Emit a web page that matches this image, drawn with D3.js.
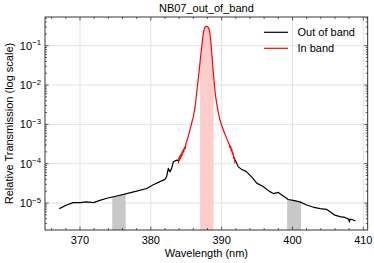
<!DOCTYPE html>
<html lang="en">
<head>
<meta charset="utf-8">
<script src="https://d3js.org/d3.v7.min.js"></script>
<style>
  html, body { margin: 0; padding: 0; background: #fff; }
  svg { display: block; }
  text { font-family: "Liberation Sans", Arial, sans-serif; fill: #000; }
</style>
</head>
<body>
<svg id="chart" width="374" height="263"></svg>
<script>
// black curve below the band
const outLeftWl = [367.08, 368.12, 369.05, 370.0, 370.9, 371.9, 372.8, 373.8, 375.2, 376.6, 378.0, 379.4,
  380.35, 381.3, 382.0, 382.24, 382.47, 382.71, 382.94, 383.18, 383.65, 383.9];
const outLeftT = [7.2e-6, 8.9e-6, 1.02e-5, 1.02e-5, 1.07e-5, 1.02e-5, 1.17e-5, 1.32e-5, 1.51e-5, 1.74e-5, 2.0e-5, 2.34e-5,
  2.9e-5, 3.5e-5, 4.0e-5, 4.7e-5, 7.6e-5, 6.2e-5, 7.6e-5, 1.12e-4, 1.23e-4, 1.2e-4];

// red in-band curve
const inWl = [383.88, 383.95, 384.02, 384.1, 384.18, 384.26, 384.34, 384.42, 384.5, 384.58, 384.66, 384.75, 384.85, 384.95,
  385.06, 385.3, 385.53, 385.75, 386.0, 386.25, 386.47, 386.65, 386.84, 387.0, 387.18, 387.3, 387.41, 387.53, 387.65,
  387.78, 387.89, 388.05, 388.2, 388.33, 388.45, 388.57, 388.68, 388.82, 388.96, 389.12, 389.3, 389.53, 389.77, 390.0,
  390.24, 390.47, 390.71, 390.95, 391.1, 391.2, 391.28, 391.36, 391.44, 391.52, 391.6, 391.7, 391.8, 391.88];
const inT = [1.02e-4, 1.38e-4, 1.17e-4, 1.58e-4, 1.35e-4, 1.74e-4, 1.51e-4, 2.0e-4, 1.74e-4, 2.29e-4, 2.04e-4, 2.63e-4, 2.4e-4, 3.16e-4,
  3.63e-4, 5.0e-4, 7.2e-4, 1.05e-3, 1.55e-3, 2.8e-3, 6.2e-3, 1.2e-2, 2.4e-2, 4.8e-2, 9.3e-2, 0.145, 0.21, 0.26, 0.295,
  0.31, 0.31, 0.30, 0.275, 0.21, 0.14, 0.079, 0.044, 0.021, 0.011, 5.6e-3, 3.4e-3, 2.0e-3, 1.29e-3, 9.5e-4,
  7.2e-4, 5.6e-4, 4.4e-4, 3.4e-4, 3.0e-4, 2.5e-4, 2.8e-4, 2.1e-4, 2.35e-4, 1.78e-4, 1.9e-4, 1.38e-4, 1.45e-4, 1.02e-4];

// black curve above the band
const outRightWl = [391.7, 392.0, 392.35, 392.8, 393.5, 394.2, 394.95, 395.9, 396.8, 397.3, 398.0, 398.7, 399.4, 400.1,
  401.05, 402.0, 402.9, 403.9, 404.8, 405.3, 406.0, 406.7, 407.4, 407.9, 408.05, 408.1, 408.6, 408.9];
const outRightT = [1.41e-4, 1.15e-4, 8.3e-5, 7.2e-5, 6.3e-5, 4.7e-5, 3.2e-5, 2.6e-5, 1.95e-5, 1.74e-5, 1.86e-5, 1.51e-5, 1.23e-5, 1.17e-5,
  1.07e-5, 8.9e-6, 7.9e-6, 7.2e-6, 6.9e-6, 6.0e-6, 4.9e-6, 4.5e-6, 4.3e-6, 3.9e-6, 3.3e-6, 3.9e-6, 3.7e-6, 3.5e-6];

// shaded wavelength windows
const grayBands = [[374.55, 376.45], [399.25, 401.2]];
const pinkBand = [386.95, 388.85];

const xTicks = [370, 380, 390, 400, 410];
const yExps = [-1, -2, -3, -4, -5];
const legendLabels = ["Out of band", "In band"];
const titleText = "NB07_out_of_band";

const W = 374, H = 263;
const m = {left: 45, right: 6.3, top: 17, bottom: 33};
const iw = W - m.left - m.right, ih = H - m.top - m.bottom;
const fs = 11;

const svg = d3.select("#chart");
const x = d3.scaleLinear().domain([365.06, 410.62]).range([m.left, m.left + iw]);
const y = d3.scaleLog().domain([2.06e-6, 0.537]).range([m.top + ih, m.top]);

const toPts = (w, t) => w.map((d, i) => ({w: d, t: t[i]}));
const leftPts = toPts(outLeftWl, outLeftT);
const inPts = toPts(inWl, inT);
const rightPts = toPts(outRightWl, outRightT);
const allPts = leftPts.concat(inPts, rightPts).sort((a, b) => a.w - b.w);

const defs = svg.append("defs");
defs.append("clipPath").attr("id", "plotclip")
  .append("rect").attr("x", m.left).attr("y", m.top).attr("width", iw).attr("height", ih);

// grid
const g = svg.append("g");
g.selectAll(".gx").data(xTicks).enter().append("line")
  .attr("x1", d => x(d)).attr("x2", d => x(d))
  .attr("y1", m.top).attr("y2", m.top + ih)
  .attr("stroke", "#e3e3e3").attr("stroke-width", 1);
g.selectAll(".gy").data(yExps).enter().append("line")
  .attr("x1", m.left).attr("x2", m.left + iw)
  .attr("y1", d => y(Math.pow(10, d))).attr("y2", d => y(Math.pow(10, d)))
  .attr("stroke", "#e3e3e3").attr("stroke-width", 1);

// shaded areas under the curve
const area = d3.area().x(d => x(d.w)).y0(m.top + ih).y1(d => y(d.t));
function band(r, col, id) {
  defs.append("clipPath").attr("id", id)
    .append("rect").attr("x", x(r[0])).attr("y", m.top)
    .attr("width", x(r[1]) - x(r[0])).attr("height", ih);
  svg.append("path").datum(allPts).attr("d", area)
    .attr("fill", col).attr("clip-path", "url(#" + id + ")");
}
grayBands.forEach((b, i) => band(b, "#c8c8c8", "gb" + i));
band(pinkBand, "#ffcccc", "pb");

// curves
const line = d3.line().x(d => x(d.w)).y(d => y(d.t));
const curves = svg.append("g").attr("clip-path", "url(#plotclip)");
[leftPts, rightPts].forEach(p => {
  curves.append("path").datum(p).attr("d", line)
    .attr("fill", "none").attr("stroke", "#000").attr("stroke-width", 1.2).attr("stroke-linejoin", "round");
});
curves.append("path").datum(inPts).attr("d", line)
  .attr("fill", "none").attr("stroke", "#ff0000").attr("stroke-width", 1.2).attr("stroke-linejoin", "round");

// frame
svg.append("rect").attr("x", m.left).attr("y", m.top).attr("width", iw).attr("height", ih)
  .attr("fill", "none").attr("stroke", "#222").attr("stroke-width", 0.9);

// ticks (inward, all sides)
const tk = svg.append("g").attr("stroke", "#222").attr("stroke-width", 0.7);
const xMinor = d3.range(366, 411, 2).filter(v => xTicks.indexOf(v) < 0);
function xTick(v, len) {
  tk.append("line").attr("x1", x(v)).attr("x2", x(v)).attr("y1", m.top + ih).attr("y2", m.top + ih - len);
  tk.append("line").attr("x1", x(v)).attr("x2", x(v)).attr("y1", m.top).attr("y2", m.top + len);
}
xTicks.forEach(v => xTick(v, 3.5));
xMinor.forEach(v => xTick(v, 2));
const yMinor = [];
for (let e = -6; e <= -1; e++) for (let k = 2; k <= 9; k++) {
  const v = k * Math.pow(10, e);
  if (v > 2.06e-6 && v < 0.537) yMinor.push(v);
}
function yTick(v, len) {
  tk.append("line").attr("y1", y(v)).attr("y2", y(v)).attr("x1", m.left).attr("x2", m.left + len);
  tk.append("line").attr("y1", y(v)).attr("y2", y(v)).attr("x1", m.left + iw).attr("x2", m.left + iw - len);
}
yExps.forEach(e => yTick(Math.pow(10, e), 3.5));
yMinor.forEach(v => yTick(v, 2));

// tick labels
svg.selectAll(".xl").data(xTicks).enter().append("text")
  .attr("x", d => x(d)).attr("y", m.top + ih + 13.5)
  .attr("text-anchor", "middle").attr("font-size", fs).text(d => d);
const yl = svg.selectAll(".yl").data(yExps).enter().append("text")
  .attr("x", m.left - 4).attr("y", d => y(Math.pow(10, d)) + 4)
  .attr("text-anchor", "end").attr("font-size", fs);
yl.append("tspan").text("10");
yl.append("tspan").attr("dy", -4.5).attr("font-size", 7.8).text(d => "\u2212" + Math.abs(d));

// axis titles
svg.append("text").attr("x", m.left + iw / 2).attr("y", 256.5)
  .attr("text-anchor", "middle").attr("font-size", fs).text("Wavelength (nm)");
svg.append("text").attr("transform", "translate(12.5," + (m.top + ih / 2) + ") rotate(-90)")
  .attr("text-anchor", "middle").attr("font-size", fs).text("Relative Transmission (log scale)");
svg.append("text").attr("x", m.left + iw / 2).attr("y", 11.5)
  .attr("text-anchor", "middle").attr("font-size", fs).text(titleText);

// legend
const leg = svg.append("g");
["#000", "#ff0000"].forEach((c, i) => {
  const ly = 32.3 + i * 16;
  leg.append("line").attr("x1", 264).attr("x2", 288).attr("y1", ly).attr("y2", ly)
    .attr("stroke", c).attr("stroke-width", 1.2);
  leg.append("text").attr("x", 297.5).attr("y", ly + 4).attr("font-size", fs).text(legendLabels[i]);
});
</script>
</body>
</html>
